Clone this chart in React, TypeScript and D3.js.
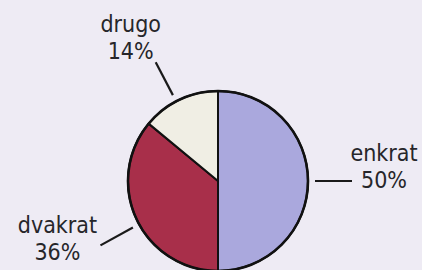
import React from "react";
import * as d3 from "d3";

const categories = ["enkrat", "dvakrat", "drugo"];
const values = [50, 36, 14];
const colors = ["#aaa8dd", "#a82f4a", "#f0eee4"];
const valueLabels = ["50%", "36%", "14%"];

const W = 422;
const H = 270;
const CX = 218;
const CY = 181;
const R = 90;
const LEADER_IN = 97;
const LEADER_OUT = 134;
const FONT = "'DejaVu Sans Condensed', 'DejaVu Sans', sans-serif";
const FONT_SIZE = 23;
const LINE_GAP = 27.5;
const DEG = Math.PI / 180;

// per-label layout: leader angle nudge (deg) and text offset from leader end (to 2nd baseline)
const leaderNudge = [0, -3.5, -2.5];
const textOffset = [
  [32, 7],
  [-43, 15],
  [-25, -3],
];

export default function App() {
  const data = categories.map((c, i) => ({ c, v: values[i], color: colors[i], lab: valueLabels[i] }));
  const pie = d3
    .pie<any>()
    .sort(null)
    .value((d: any) => d.v)
    .startAngle(0)
    .endAngle(2 * Math.PI);
  const arcs = pie(data);
  const arc = d3.arc<any>().innerRadius(0).outerRadius(R);
  const polar = (a: number, r: number) => [CX + r * Math.sin(a), CY - r * Math.cos(a)];

  return (
    <svg width={W} height={H} style={{ position: "absolute", left: 0, top: 0 }}>
      <rect width={W} height={H} fill="#eeebf4" />
      <g transform={`translate(${CX},${CY})`}>
        {arcs.map((a, i) => (
          <path
            key={i}
            d={arc(a) as string}
            fill={a.data.color}
            stroke="#111"
            strokeWidth={2}
            strokeLinejoin="round"
          />
        ))}
        <circle r={R} fill="none" stroke="#111" strokeWidth={2.6} />
      </g>
      {arcs.map((a, i) => {
        const mid = (a.startAngle + a.endAngle) / 2 + leaderNudge[i] * DEG;
        const [x1, y1] = polar(mid, LEADER_IN);
        const [x2, y2] = polar(mid, LEADER_OUT);
        const tx = x2 + textOffset[i][0];
        const ty2 = y2 + textOffset[i][1];
        return (
          <g key={"l" + i}>
            <line x1={x1} y1={y1} x2={x2} y2={y2} stroke="#1a1a1a" strokeWidth={2.2} />
            <text
              x={tx}
              y={ty2 - LINE_GAP}
              textAnchor="middle"
              fontFamily={FONT}
              fontSize={FONT_SIZE}
              fill="#26262a"
            >
              {a.data.c}
            </text>
            <text
              x={tx}
              y={ty2}
              textAnchor="middle"
              fontFamily={FONT}
              fontSize={FONT_SIZE}
              fill="#26262a"
            >
              {a.data.lab}
            </text>
          </g>
        );
      })}
    </svg>
  );
}
